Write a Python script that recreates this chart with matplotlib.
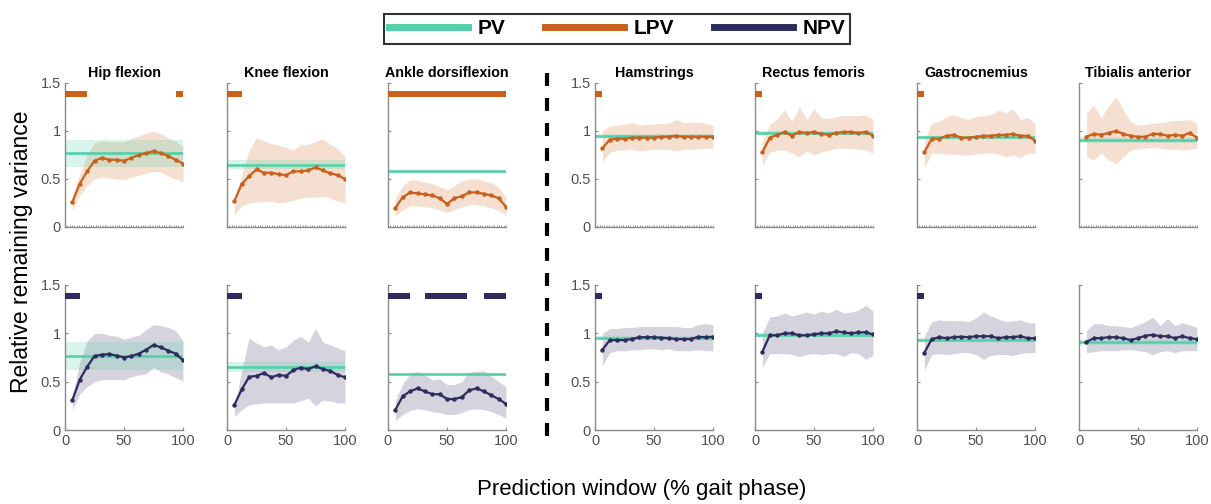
import numpy as np
import matplotlib
matplotlib.use('Agg')
import matplotlib.pyplot as plt
from matplotlib.lines import Line2D

plt.rcParams['font.family'] = ['Liberation Sans', 'DejaVu Sans']

# ---------------- data ----------------
titles = ['Hip flexion', 'Knee flexion', 'Ankle dorsiflexion',
          'Hamstrings', 'Rectus femoris', 'Gastrocnemius', 'Tibialis anterior']
windows = [6.25, 12.5, 18.75, 25, 31.25, 37.5, 43.75, 50,
           56.25, 62.5, 68.75, 75, 81.25, 87.5, 93.75, 100]

# PV (horizontal reference with band)
pv_mean = [0.77, 0.65, 0.58, 0.95, 0.98, 0.935, 0.91]
pv_lo = [0.62, 0.60, 0.575, 0.93, 0.96, 0.92, 0.875]
pv_hi = [0.91, 0.70, 0.585, 0.97, 1.00, 0.95, 0.94]

# LPV (top row)
lpv_hip = [0.26, 0.45, 0.58, 0.69, 0.72, 0.70, 0.70, 0.69, 0.72, 0.75, 0.77, 0.79, 0.77, 0.74, 0.70, 0.66]
lpv_hip_hi = [0.33, 0.55, 0.75, 0.88, 0.90, 0.89, 0.89, 0.89, 0.92, 0.95, 0.98, 1.00, 0.97, 0.93, 0.89, 0.84]
lpv_hip_lo = [0.17, 0.33, 0.43, 0.50, 0.52, 0.51, 0.50, 0.49, 0.52, 0.54, 0.56, 0.58, 0.57, 0.53, 0.50, 0.47]

lpv_knee = [0.27, 0.45, 0.53, 0.60, 0.565, 0.565, 0.55, 0.54, 0.58, 0.58, 0.59, 0.62, 0.59, 0.56, 0.54, 0.50]
lpv_knee_hi = [0.20, 0.55, 0.80, 0.93, 0.90, 0.87, 0.85, 0.83, 0.80, 0.86, 0.86, 0.89, 0.92, 0.86, 0.82, 0.73]
lpv_knee_lo = [0.13, 0.22, 0.25, 0.26, 0.26, 0.27, 0.25, 0.26, 0.28, 0.30, 0.31, 0.31, 0.32, 0.30, 0.27, 0.25]

lpv_ankle = [0.20, 0.31, 0.36, 0.35, 0.34, 0.33, 0.30, 0.24, 0.30, 0.32, 0.36, 0.36, 0.345, 0.33, 0.30, 0.21]
lpv_ankle_hi = [0.30, 0.43, 0.49, 0.49, 0.47, 0.45, 0.42, 0.39, 0.43, 0.48, 0.50, 0.50, 0.48, 0.46, 0.42, 0.30]
lpv_ankle_lo = [0.12, 0.18, 0.22, 0.22, 0.21, 0.20, 0.18, 0.15, 0.18, 0.21, 0.23, 0.23, 0.22, 0.20, 0.17, 0.12]

lpv_ham = [0.82, 0.91, 0.92, 0.92, 0.93, 0.93, 0.93, 0.93, 0.94, 0.94, 0.95, 0.94, 0.94, 0.94, 0.94, 0.94]
lpv_ham_hi = [1.00, 1.05, 1.06, 1.07, 1.09, 1.06, 1.07, 1.07, 1.08, 1.08, 1.12, 1.09, 1.09, 1.09, 1.08, 1.06]
lpv_ham_lo = [0.68, 0.78, 0.80, 0.80, 0.81, 0.79, 0.80, 0.81, 0.81, 0.81, 0.79, 0.81, 0.81, 0.81, 0.82, 0.82]

lpv_rect = [0.78, 0.93, 0.96, 0.99, 0.95, 0.99, 0.98, 0.99, 0.97, 0.96, 0.98, 0.99, 0.99, 0.98, 0.99, 0.95]
lpv_rect_hi = [0.88, 1.07, 1.12, 1.22, 1.10, 1.25, 1.12, 1.23, 1.14, 1.13, 1.15, 1.16, 1.16, 1.16, 1.17, 1.12]
lpv_rect_lo = [0.64, 0.78, 0.80, 0.80, 0.77, 0.73, 0.79, 0.75, 0.78, 0.80, 0.82, 0.82, 0.82, 0.81, 0.80, 0.77]

lpv_gas = [0.78, 0.92, 0.92, 0.95, 0.96, 0.93, 0.93, 0.94, 0.95, 0.95, 0.96, 0.96, 0.97, 0.95, 0.95, 0.90]
lpv_gas_hi = [0.90, 1.08, 1.10, 1.15, 1.17, 1.14, 1.12, 1.15, 1.16, 1.17, 1.22, 1.19, 1.23, 1.12, 1.14, 1.08]
lpv_gas_lo = [0.62, 0.77, 0.77, 0.76, 0.76, 0.75, 0.75, 0.76, 0.77, 0.77, 0.76, 0.73, 0.75, 0.72, 0.77, 0.77]

lpv_tib = [0.94, 0.97, 0.96, 0.98, 1.00, 0.97, 0.95, 0.94, 0.94, 0.97, 0.97, 0.95, 0.96, 0.95, 0.98, 0.93]
lpv_tib_hi = [1.19, 1.27, 1.14, 1.26, 1.36, 1.22, 1.10, 1.06, 1.07, 1.08, 1.09, 1.10, 1.11, 1.11, 1.12, 1.08]
lpv_tib_lo = [0.73, 0.70, 0.77, 0.70, 0.66, 0.73, 0.80, 0.81, 0.82, 0.83, 0.82, 0.81, 0.81, 0.80, 0.81, 0.82]

# NPV (bottom row)
npv_hip = [0.31, 0.52, 0.655, 0.765, 0.78, 0.785, 0.77, 0.75, 0.765, 0.79, 0.83, 0.88, 0.855, 0.82, 0.79, 0.72]
npv_hip_hi = [0.35, 0.70, 0.92, 1.00, 1.00, 0.98, 0.97, 0.94, 0.96, 0.98, 1.04, 1.09, 1.08, 1.06, 1.03, 0.92]
npv_hip_lo = [0.21, 0.37, 0.45, 0.50, 0.52, 0.52, 0.52, 0.52, 0.55, 0.57, 0.58, 0.65, 0.60, 0.58, 0.54, 0.51]

npv_knee = [0.26, 0.42, 0.55, 0.56, 0.59, 0.545, 0.57, 0.56, 0.62, 0.645, 0.63, 0.66, 0.63, 0.61, 0.57, 0.545]
npv_knee_hi = [0.22, 0.62, 0.95, 0.90, 0.86, 0.88, 0.83, 0.86, 0.93, 0.97, 0.91, 1.05, 0.91, 0.88, 0.85, 0.82]
npv_knee_lo = [0.14, 0.21, 0.26, 0.27, 0.28, 0.28, 0.28, 0.28, 0.28, 0.30, 0.33, 0.25, 0.31, 0.30, 0.28, 0.28]

npv_ankle = [0.21, 0.35, 0.40, 0.43, 0.40, 0.37, 0.37, 0.32, 0.32, 0.34, 0.41, 0.43, 0.40, 0.36, 0.32, 0.27]
npv_ankle_hi = [0.30, 0.48, 0.58, 0.61, 0.57, 0.52, 0.53, 0.47, 0.47, 0.50, 0.60, 0.61, 0.61, 0.56, 0.50, 0.45]
npv_ankle_lo = [0.10, 0.16, 0.20, 0.22, 0.21, 0.19, 0.18, 0.16, 0.16, 0.18, 0.21, 0.22, 0.21, 0.19, 0.16, 0.12]

npv_ham = [0.83, 0.93, 0.93, 0.93, 0.94, 0.96, 0.96, 0.96, 0.955, 0.95, 0.94, 0.94, 0.94, 0.965, 0.96, 0.965]
npv_ham_hi = [1.00, 1.05, 1.05, 1.06, 1.06, 1.07, 1.07, 1.07, 1.07, 1.07, 1.07, 1.06, 1.06, 1.09, 1.10, 1.09]
npv_ham_lo = [0.67, 0.80, 0.82, 0.82, 0.83, 0.83, 0.84, 0.84, 0.83, 0.84, 0.82, 0.82, 0.82, 0.83, 0.82, 0.82]

npv_rect = [0.81, 0.98, 0.98, 1.00, 1.00, 0.98, 0.98, 0.99, 1.00, 1.00, 1.02, 1.01, 1.00, 1.01, 1.01, 0.99]
npv_rect_hi = [1.00, 1.17, 1.18, 1.21, 1.18, 1.20, 1.22, 1.20, 1.23, 1.21, 1.25, 1.21, 1.22, 1.24, 1.29, 1.23]
npv_rect_lo = [0.65, 0.79, 0.79, 0.79, 0.78, 0.76, 0.78, 0.79, 0.78, 0.79, 0.79, 0.76, 0.80, 0.79, 0.73, 0.77]

npv_gas = [0.80, 0.94, 0.96, 0.95, 0.96, 0.965, 0.96, 0.97, 0.97, 0.97, 0.95, 0.96, 0.96, 0.97, 0.95, 0.95]
npv_gas_hi = [0.97, 1.12, 1.14, 1.13, 1.13, 1.13, 1.12, 1.16, 1.22, 1.18, 1.15, 1.12, 1.13, 1.14, 1.11, 1.11]
npv_gas_lo = [0.62, 0.78, 0.79, 0.78, 0.79, 0.80, 0.80, 0.78, 0.73, 0.77, 0.78, 0.78, 0.77, 0.79, 0.80, 0.80]

npv_tib = [0.91, 0.95, 0.95, 0.96, 0.96, 0.95, 0.93, 0.95, 0.975, 0.985, 0.97, 0.97, 0.95, 0.97, 0.95, 0.94]
npv_tib_hi = [1.03, 1.10, 1.10, 1.08, 1.08, 1.07, 1.06, 1.09, 1.12, 1.17, 1.08, 1.15, 1.08, 1.11, 1.09, 1.06]
npv_tib_lo = [0.80, 0.81, 0.82, 0.82, 0.82, 0.83, 0.83, 0.82, 0.81, 0.78, 0.81, 0.82, 0.80, 0.82, 0.82, 0.82]

# significance bars (start, end) in % gait phase
sig_lpv = [[(0, 18.75), (93.75, 100)], [(0, 12.5)], [(0, 100)],
           [(0, 6.25)], [(0, 6.25)], [(0, 6.25)], []]
sig_npv = [[(0, 12.5)], [(0, 12.5)], [(0, 18.75), (31, 67), (81.25, 100)],
           [(0, 6.25)], [(0, 6.25)], [(0, 6.25)], []]

lpv_rows = [(lpv_hip, lpv_hip_lo, lpv_hip_hi), (lpv_knee, lpv_knee_lo, lpv_knee_hi),
            (lpv_ankle, lpv_ankle_lo, lpv_ankle_hi), (lpv_ham, lpv_ham_lo, lpv_ham_hi),
            (lpv_rect, lpv_rect_lo, lpv_rect_hi), (lpv_gas, lpv_gas_lo, lpv_gas_hi),
            (lpv_tib, lpv_tib_lo, lpv_tib_hi)]
npv_rows = [(npv_hip, npv_hip_lo, npv_hip_hi), (npv_knee, npv_knee_lo, npv_knee_hi),
            (npv_ankle, npv_ankle_lo, npv_ankle_hi), (npv_ham, npv_ham_lo, npv_ham_hi),
            (npv_rect, npv_rect_lo, npv_rect_hi), (npv_gas, npv_gas_lo, npv_gas_hi),
            (npv_tib, npv_tib_lo, npv_tib_hi)]

# ---------------- style ----------------
C_PV = '#52d1aa'
C_LPV = '#c9601b'
C_NPV = '#2e2c5c'
AX_C = '#8a8a8a'
TXT_C = '#505050'

W, H = 1211, 504
fig = plt.figure(figsize=(W / 100, H / 100), dpi=100)

lefts = [65, 227, 388, 595, 755, 917, 1079]
ax_w = 118
row_geom = [(227, 144), (430, 145)]   # (bottom px, height px)

for r, (bottom_px, height_px) in enumerate(row_geom):
    series = lpv_rows if r == 0 else npv_rows
    sigs = sig_lpv if r == 0 else sig_npv
    col = C_LPV if r == 0 else C_NPV
    for c, left_px in enumerate(lefts):
        ax = fig.add_axes([left_px / W, 1 - bottom_px / H, ax_w / W, height_px / H])
        mean, lo, hi = series[c]
        ax.fill_between(windows, lo, hi, color=col, alpha=0.2, linewidth=0, zorder=1)
        ax.axhspan(pv_lo[c], pv_hi[c], color=C_PV, alpha=0.22, linewidth=0, zorder=1.5)
        ax.axhline(pv_mean[c], color=C_PV, lw=1.9, zorder=2)
        ax.plot(windows, mean, color=col, lw=1.6, marker='o', markersize=3.2,
                markeredgewidth=0, zorder=3)
        if sigs[c]:
            ax.broken_barh([(s, e - s) for s, e in sigs[c]], (1.355, 0.06),
                           color=col, linewidth=0, zorder=3)
        ax.set_xlim(0, 100)
        ax.set_ylim(0, 1.5)
        for s in ['top', 'right']:
            ax.spines[s].set_visible(False)
        for s in ['left', 'bottom']:
            ax.spines[s].set_color(AX_C)
            ax.spines[s].set_linewidth(1.0)
        ax.set_yticks([0, 0.5, 1, 1.5])
        if c in (0, 3):
            ax.set_yticklabels(['0', '0.5', '1', '1.5'])
        else:
            ax.set_yticklabels([])
        if r == 0:
            ax.set_xticks(np.arange(0, 101, 2))
            ax.set_xticklabels([])
            ax.tick_params(axis='x', length=1.5, width=0.6)
            ax.set_title(titles[c], fontsize=10.3, fontweight='bold', pad=4)
        else:
            ax.set_xticks([0, 50, 100])
            ax.set_xticklabels(['0', '50', '100'])
            ax.tick_params(axis='x', length=2.5)
        ax.tick_params(direction='in', colors=AX_C, labelcolor=TXT_C, labelsize=10.5, pad=3)
        ax.tick_params(axis='y', length=2.5)
        ax.set_facecolor('none')

# dashed separator
fig.add_artist(Line2D([547 / W, 547 / W], [1 - 73 / H, 1 - 445 / H], color='black',
                      lw=3, linestyle=(0, (3.1, 2.9)), transform=fig.transFigure))

# labels
fig.text(642 / W, 1 - 489 / H, 'Prediction window (% gait phase)', ha='center', va='center',
         fontsize=16)
fig.text(22 / W, 1 - 252 / H, 'Relative remaining variance', ha='center', va='center',
         rotation=90, fontsize=16.5)

# legend
handles = [Line2D([], [], color=C_PV, lw=5), Line2D([], [], color=C_LPV, lw=5),
           Line2D([], [], color=C_NPV, lw=5)]
leg = fig.legend(handles, ['PV', 'LPV', 'NPV'], loc='center', ncol=3,
                 bbox_to_anchor=(617 / W, 1 - 29 / H), frameon=True, fancybox=False,
                 edgecolor='black', handlelength=3.8, handletextpad=0.45, columnspacing=1.9,
                 borderpad=0.25, prop={'weight': 'bold', 'size': 15})
leg.get_frame().set_linewidth(1.5)

fig.savefig('out.png', dpi=100)
